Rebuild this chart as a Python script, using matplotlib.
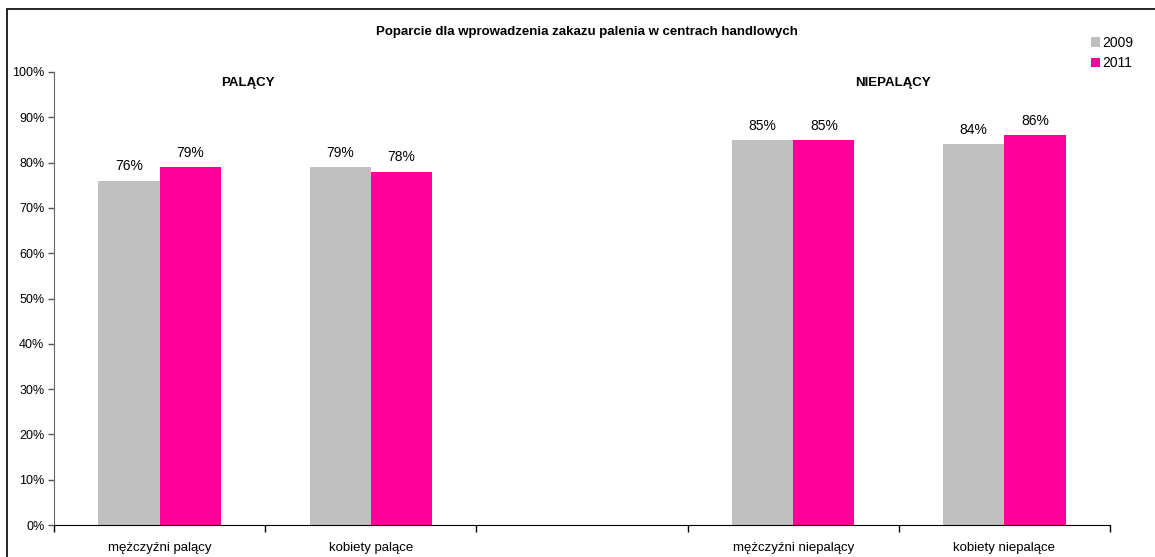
import numpy as np
import matplotlib.pyplot as plt
from matplotlib.patches import Rectangle

plt.rcParams['font.family'] = ['Liberation Sans', 'DejaVu Sans']

# dane
categories = ['mężczyźni palący', 'kobiety palące', '', 'mężczyźni niepalący', 'kobiety niepalące']
values_2009 = [76, 79, np.nan, 85, 84]
values_2011 = [79, 78, np.nan, 85, 86]
series_names = ['2009', '2011']
colors = ['#C0C0C0', '#FF0099']
group_labels = ['PALĄCY', 'NIEPALĄCY']

fig = plt.figure(figsize=(11.55, 5.57), dpi=100)
ax = fig.add_axes([54 / 1155, 32 / 557, 1056 / 1155, 453 / 557])

x = np.arange(len(categories))
w = 0.29
b1 = ax.bar(x - w / 2, values_2009, w, color=colors[0], label=series_names[0])
b2 = ax.bar(x + w / 2, values_2011, w, color=colors[1], label=series_names[1])

for bars, vals in [(b1, values_2009), (b2, values_2011)]:
    for bar, v in zip(bars, vals):
        if np.isnan(v):
            continue
        ax.text(bar.get_x() + bar.get_width() / 2, v + 1.6, f'{v:.0f}%',
                ha='center', va='bottom', fontsize=10)

ax.set_xlim(-0.5, len(categories) - 0.5)
ax.set_ylim(0, 100)
ax.set_yticks(np.arange(0, 101, 10))
ax.set_yticklabels([f'{t}%' for t in range(0, 101, 10)], fontsize=9)
ax.set_xticks(x)
ax.set_xticklabels(categories, fontsize=9.5)
ax.set_xticks(np.arange(-0.5, len(categories), 1), minor=True)
ax.tick_params(axis='x', which='major', length=0, pad=12)
ax.tick_params(axis='x', which='minor', length=5, width=1, color='black')
ax.tick_params(axis='y', length=4, width=1, color='#555555', pad=3)

for s in ['top', 'right']:
    ax.spines[s].set_visible(False)
ax.spines['left'].set_color('#666666')
ax.spines['bottom'].set_color('black')

ax.text(0.418, 99, group_labels[0], ha='center', va='top', fontsize=9.5, fontweight='bold')
ax.text(3.47, 99, group_labels[1], ha='center', va='top', fontsize=9.5, fontweight='bold')

fig.text(587 / 1155, 1 - 32 / 557, 'Poparcie dla wprowadzenia zakazu palenia w centrach handlowych',
         ha='center', va='center', fontsize=9.5, fontweight='bold')

fig.legend(loc='upper left', bbox_to_anchor=(1091 / 1155, 1 - 36 / 557), frameon=False,
           fontsize=10, handlelength=0.65, handleheight=0.65, handletextpad=0.15,
           labelspacing=0.45, borderpad=0, borderaxespad=0)

fig.patches.append(Rectangle((7 / 1155, -0.1), 1.2, 1.1 - 9 / 557, transform=fig.transFigure,
                             fill=False, edgecolor='black', linewidth=1.2))

fig.savefig('out.png', dpi=100)
